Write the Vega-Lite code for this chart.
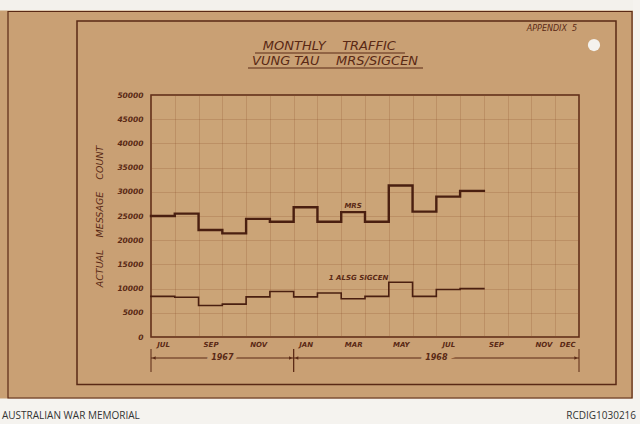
{
  "$schema": "https://vega.github.io/schema/vega-lite/v6.json",
  "autosize": {"type": "none"},
  "width": 428,
  "height": 242,
  "padding": {"left": 151, "top": 95, "right": 61, "bottom": 87},
  "background": "#c9a074",
  "config": {
    "view": {"stroke": "#5a2915", "strokeWidth": 1.5, "fill": "#cba477"},
    "font": "DejaVu Sans",
    "axis": {"zindex": 1}
  },
  "resolve": {"axis": {"x": "independent", "y": "independent"}},
  "datasets": {
    "traffic": [
      {"month": "1967-07", "m": 0, "series": "MRS", "count": 25000},
      {"month": "1967-08", "m": 1, "series": "MRS", "count": 25500},
      {"month": "1967-09", "m": 2, "series": "MRS", "count": 22100},
      {"month": "1967-10", "m": 3, "series": "MRS", "count": 21400},
      {"month": "1967-11", "m": 4, "series": "MRS", "count": 24400},
      {"month": "1967-12", "m": 5, "series": "MRS", "count": 23800},
      {"month": "1968-01", "m": 6, "series": "MRS", "count": 26800},
      {"month": "1968-02", "m": 7, "series": "MRS", "count": 23800},
      {"month": "1968-03", "m": 8, "series": "MRS", "count": 25800},
      {"month": "1968-04", "m": 9, "series": "MRS", "count": 23800},
      {"month": "1968-05", "m": 10, "series": "MRS", "count": 31300},
      {"month": "1968-06", "m": 11, "series": "MRS", "count": 25900},
      {"month": "1968-07", "m": 12, "series": "MRS", "count": 29000},
      {"month": "1968-08", "m": 13, "series": "MRS", "count": 30200},
      {"month": "1968-09", "m": 14, "series": "MRS", "count": 30200},
      {"month": "1967-07", "m": 0, "series": "1 ALSG SIGCEN", "count": 8400},
      {"month": "1967-08", "m": 1, "series": "1 ALSG SIGCEN", "count": 8200},
      {"month": "1967-09", "m": 2, "series": "1 ALSG SIGCEN", "count": 6500},
      {"month": "1967-10", "m": 3, "series": "1 ALSG SIGCEN", "count": 6800},
      {"month": "1967-11", "m": 4, "series": "1 ALSG SIGCEN", "count": 8300},
      {"month": "1967-12", "m": 5, "series": "1 ALSG SIGCEN", "count": 9400},
      {"month": "1968-01", "m": 6, "series": "1 ALSG SIGCEN", "count": 8300},
      {"month": "1968-02", "m": 7, "series": "1 ALSG SIGCEN", "count": 9100},
      {"month": "1968-03", "m": 8, "series": "1 ALSG SIGCEN", "count": 7900},
      {"month": "1968-04", "m": 9, "series": "1 ALSG SIGCEN", "count": 8400},
      {"month": "1968-05", "m": 10, "series": "1 ALSG SIGCEN", "count": 11300},
      {"month": "1968-06", "m": 11, "series": "1 ALSG SIGCEN", "count": 8400},
      {"month": "1968-07", "m": 12, "series": "1 ALSG SIGCEN", "count": 9800},
      {"month": "1968-08", "m": 13, "series": "1 ALSG SIGCEN", "count": 10000},
      {"month": "1968-09", "m": 14, "series": "1 ALSG SIGCEN", "count": 10000}
    ],
    "serieslabels": [
      {"label": "MRS", "m": 8.5, "count": 26600},
      {"label": "1 ALSG SIGCEN", "m": 8.73, "count": 11800}
    ],
    "years": [
      {"year": "1967", "start": 0, "end": 6},
      {"year": "1968", "start": 6, "end": 18}
    ],
    "one": [{}]
  },
  "layer": [
    {
      "data": {"name": "traffic"},
      "mark": {"type": "line", "interpolate": "step-after", "color": "#4a1f10", "strokeCap": "square"},
      "encoding": {
        "x": {
          "field": "m",
          "type": "quantitative",
          "scale": {"domain": [0, 18], "nice": false, "zero": false},
          "axis": {
            "orient": "bottom",
            "values": [0, 1, 2, 3, 4, 5, 6, 7, 8, 9, 10, 11, 12, 13, 14, 15, 16, 17, 18],
            "labelExpr": "['JUL','','SEP','','NOV','','JAN','','MAR','','MAY','','JUL','','SEP','','NOV','DEC',''][datum.value]",
            "labelOffset": 12,
            "labelOverlap": false,
            "labelBound": false,
            "labelFlush": false,
            "labelPadding": 3,
            "labelFont": "DejaVu Sans",
            "labelFontSize": 7,
            "labelFontStyle": "italic",
            "labelFontWeight": "bold",
            "labelColor": "#5a2915",
            "ticks": false,
            "domain": false,
            "grid": true,
            "gridColor": "#8a4a2a",
            "gridOpacity": 0.22,
            "gridWidth": 1,
            "title": null
          }
        },
        "y": {
          "field": "count",
          "type": "quantitative",
          "scale": {"domain": [0, 50000], "nice": false},
          "axis": {
            "orient": "left",
            "values": [0, 5000, 10000, 15000, 20000, 25000, 30000, 35000, 40000, 45000, 50000],
            "format": "d",
            "labelOverlap": false,
            "labelPadding": 8,
            "labelFont": "DejaVu Sans",
            "labelFontSize": 7.5,
            "labelFontStyle": "italic",
            "labelFontWeight": "bold",
            "labelColor": "#5a2915",
            "ticks": false,
            "domain": false,
            "grid": true,
            "gridColor": "#8a4a2a",
            "gridOpacity": 0.22,
            "gridWidth": 1,
            "title": "ACTUAL\u00a0\u00a0\u00a0\u00a0MESSAGE\u00a0\u00a0\u00a0\u00a0COUNT",
            "titleFont": "DejaVu Sans",
            "titleFontSize": 9.5,
            "titleFontStyle": "italic",
            "titleFontWeight": "normal",
            "titleColor": "#5a2915",
            "titlePadding": 12
          }
        },
        "detail": {"field": "series"},
        "strokeWidth": {
          "field": "series",
          "type": "nominal",
          "scale": {"domain": ["MRS", "1 ALSG SIGCEN"], "range": [2.4, 1.6]},
          "legend": null
        }
      }
    },
    {
      "data": {"name": "one"},
      "mark": {"type": "rect", "fill": "#f5f3ef"},
      "encoding": {
        "x": {"datum": -8, "type": "quantitative", "axis": null},
        "x2": {"datum": 22},
        "y": {"datum": -12707, "type": "quantitative", "axis": null},
        "y2": {"datum": -22000}
      }
    },
    {
      "data": {"name": "one"},
      "mark": {"type": "rect", "fill": "#f3f1ec"},
      "encoding": {
        "x": {"datum": -8, "type": "quantitative", "axis": null},
        "x2": {"datum": 22},
        "y": {"datum": 67458, "type": "quantitative", "axis": null},
        "y2": {"datum": 72000}
      }
    },
    {
      "data": {"name": "one"},
      "mark": {"type": "rect", "fill": "#f5f3ef"},
      "encoding": {
        "x": {"datum": 20.27, "type": "quantitative", "axis": null},
        "x2": {"datum": 22},
        "y": {"datum": -22000, "type": "quantitative", "axis": null},
        "y2": {"datum": 72000}
      }
    },
    {
      "data": {"name": "one"},
      "mark": {"type": "rect", "fill": null, "stroke": "#5a2915", "strokeWidth": 1.2},
      "encoding": {
        "x": {"datum": -6.014, "type": "quantitative", "axis": null},
        "x2": {"datum": 20.23},
        "y": {"datum": 67252, "type": "quantitative", "axis": null},
        "y2": {"datum": -12603}
      }
    },
    {
      "data": {"name": "one"},
      "mark": {"type": "rect", "fill": null, "stroke": "#5a2915", "strokeWidth": 1.5},
      "encoding": {
        "x": {"datum": -3.112, "type": "quantitative", "axis": null},
        "x2": {"datum": 19.556},
        "y": {"datum": 65289, "type": "quantitative", "axis": null},
        "y2": {"datum": -9814}
      }
    },
    {
      "data": {"name": "one"},
      "mark": {"type": "point", "filled": true, "fill": "#f4f2ee", "opacity": 1, "size": 150},
      "encoding": {
        "x": {"datum": 18.63, "type": "quantitative", "axis": null},
        "y": {"datum": 60330, "type": "quantitative", "axis": null}
      }
    },
    {
      "data": {"name": "one"},
      "mark": {"type": "text", "text": "APPENDIX\u00a0\u00a05", "align": "right", "baseline": "alphabetic", "fontSize": 8, "fontStyle": "italic", "color": "#5a2915"},
      "encoding": {
        "x": {"datum": 17.92, "type": "quantitative", "axis": null},
        "y": {"datum": 63223, "type": "quantitative", "axis": null}
      }
    },
    {
      "data": {"name": "one"},
      "mark": {"type": "text", "text": "MONTHLY\u00a0\u00a0\u00a0\u00a0TRAFFIC", "align": "center", "baseline": "alphabetic", "fontSize": 13, "fontStyle": "italic", "color": "#5a2915"},
      "encoding": {
        "x": {"datum": 7.5, "type": "quantitative", "axis": null},
        "y": {"datum": 59300, "type": "quantitative", "axis": null}
      }
    },
    {
      "data": {"name": "one"},
      "mark": {"type": "text", "text": "VUNG TAU\u00a0\u00a0\u00a0\u00a0MRS/SIGCEN", "align": "center", "baseline": "alphabetic", "fontSize": 13, "fontStyle": "italic", "color": "#5a2915"},
      "encoding": {
        "x": {"datum": 7.74, "type": "quantitative", "axis": null},
        "y": {"datum": 56200, "type": "quantitative", "axis": null}
      }
    },
    {
      "data": {"name": "one"},
      "mark": {"type": "rule", "color": "#5a2915", "strokeWidth": 1.2},
      "encoding": {
        "x": {"datum": 4.374, "type": "quantitative", "axis": null},
        "x2": {"datum": 10.68},
        "y": {"datum": 58677, "type": "quantitative", "axis": null}
      }
    },
    {
      "data": {"name": "one"},
      "mark": {"type": "rule", "color": "#5a2915", "strokeWidth": 1.2},
      "encoding": {
        "x": {"datum": 4.079, "type": "quantitative", "axis": null},
        "x2": {"datum": 11.44},
        "y": {"datum": 55578, "type": "quantitative", "axis": null}
      }
    },
    {
      "data": {"name": "serieslabels"},
      "mark": {"type": "text", "baseline": "alphabetic", "fontSize": 7, "fontStyle": "italic", "fontWeight": "bold", "color": "#5a2915"},
      "encoding": {
        "x": {"field": "m", "type": "quantitative", "axis": null},
        "y": {"field": "count", "type": "quantitative", "axis": null},
        "text": {"field": "label"}
      }
    },
    {
      "data": {"name": "years"},
      "mark": {"type": "rule", "color": "#5a2915", "strokeWidth": 1},
      "encoding": {
        "x": {"field": "start", "type": "quantitative", "axis": null},
        "x2": {"field": "end"},
        "y": {"datum": -4339, "type": "quantitative", "axis": null}
      }
    },
    {
      "data": {"name": "years"},
      "mark": {"type": "rule", "color": "#5a2915", "strokeWidth": 1},
      "encoding": {
        "x": {"field": "start", "type": "quantitative", "axis": null},
        "y": {"datum": -2479, "type": "quantitative", "axis": null},
        "y2": {"datum": -7231}
      }
    },
    {
      "data": {"name": "years"},
      "mark": {"type": "rule", "color": "#5a2915", "strokeWidth": 1},
      "encoding": {
        "x": {"field": "end", "type": "quantitative", "axis": null},
        "y": {"datum": -2479, "type": "quantitative", "axis": null},
        "y2": {"datum": -7231}
      }
    },
    {
      "data": {"name": "years"},
      "mark": {"type": "point", "shape": "triangle-left", "filled": true, "color": "#5a2915", "opacity": 1, "size": 14, "xOffset": 3},
      "encoding": {
        "x": {"field": "start", "type": "quantitative", "axis": null},
        "y": {"datum": -4339, "type": "quantitative", "axis": null}
      }
    },
    {
      "data": {"name": "years"},
      "mark": {"type": "point", "shape": "triangle-right", "filled": true, "color": "#5a2915", "opacity": 1, "size": 14, "xOffset": -3},
      "encoding": {
        "x": {"field": "end", "type": "quantitative", "axis": null},
        "y": {"datum": -4339, "type": "quantitative", "axis": null}
      }
    },
    {
      "data": {"name": "years"},
      "transform": [{"calculate": "(datum.start + datum.end) / 2", "as": "mid"}],
      "mark": {"type": "text", "baseline": "middle", "fontSize": 8, "fontStyle": "italic", "fontWeight": "bold", "stroke": "#c9a074", "strokeWidth": 9, "color": "#c9a074"},
      "encoding": {
        "x": {"field": "mid", "type": "quantitative", "axis": null},
        "y": {"datum": -4339, "type": "quantitative", "axis": null},
        "text": {"field": "year"}
      }
    },
    {
      "data": {"name": "years"},
      "transform": [{"calculate": "(datum.start + datum.end) / 2", "as": "mid"}],
      "mark": {"type": "text", "baseline": "middle", "fontSize": 8, "fontStyle": "italic", "fontWeight": "bold", "color": "#5a2915"},
      "encoding": {
        "x": {"field": "mid", "type": "quantitative", "axis": null},
        "y": {"datum": -4339, "type": "quantitative", "axis": null},
        "text": {"field": "year"}
      }
    },
    {
      "data": {"name": "one"},
      "mark": {"type": "text", "text": "AUSTRALIAN WAR MEMORIAL", "align": "left", "baseline": "alphabetic", "font": "Open Sans", "fontSize": 10, "color": "#333333"},
      "encoding": {
        "x": {"datum": -6.266, "type": "quantitative", "axis": null},
        "y": {"datum": -16942, "type": "quantitative", "axis": null}
      }
    },
    {
      "data": {"name": "one"},
      "mark": {"type": "text", "text": "RCDIG1030216", "align": "right", "baseline": "alphabetic", "font": "Open Sans", "fontSize": 10, "color": "#333333"},
      "encoding": {
        "x": {"datum": 20.4, "type": "quantitative", "axis": null},
        "y": {"datum": -16942, "type": "quantitative", "axis": null}
      }
    }
  ]
}
